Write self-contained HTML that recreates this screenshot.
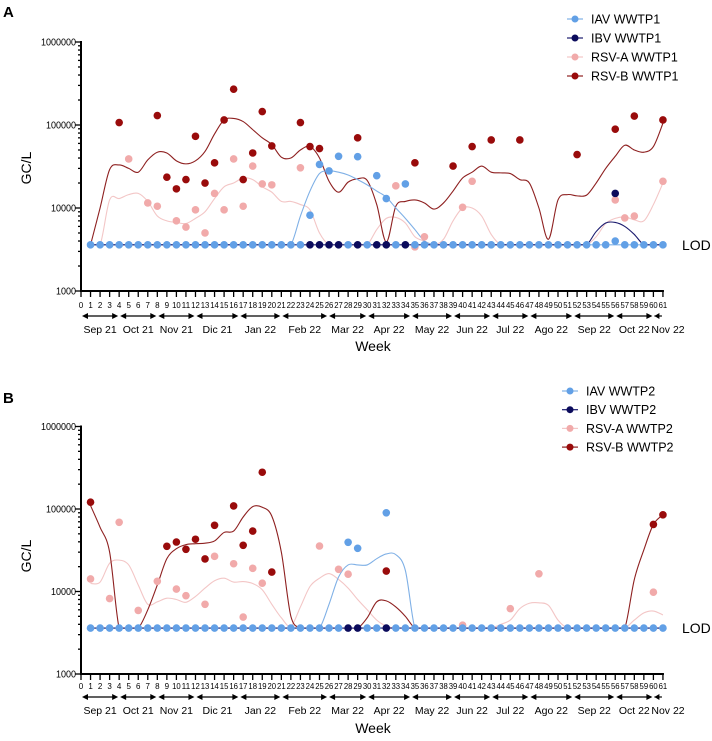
<!DOCTYPE html>
<html><head><meta charset="utf-8"><style>
body{margin:0;background:#fff;}
svg{display:block;font-family:"Liberation Sans",sans-serif;}
</style></head><body>
<svg id="chart" width="712" height="741" viewBox="0 0 712 741"></svg>
<script>
const L = 3600;
const weekTicks = Array.from({length:62},(_, i)=>String(i));
const months = ["Sep 21","Oct 21","Nov 21","Dic 21","Jan 22","Feb 22","Mar 22","Apr 22","May 22","Jun 22","Jul 22","Ago 22","Sep 22","Oct 22","Nov 22"];
const monthBounds = [0,4,8,12,16.6,21,25.9,30,34.6,39,43,47,51.6,56,60,61];
const yTicks = [1000,10000,100000,1000000];
const yTickLabels = ["1000","10000","100000","1000000"];

const A_rsvbWeeks = [4,8,9,10,11,12,13,14,15,16,17,18,19,20,23,24,25,29,35,39,41,43,46,52,56,58,61];
const A_rsvbVals  = [107000,130000,23500,17000,22000,73000,20000,35000,115000,270000,22000,46000,145000,56000,107000,55000,52000,70000,35000,32000,55000,66000,66000,44000,89000,128000,115000];
const A_rsvaWeeks = [5,7,8,10,11,12,13,14,15,16,17,18,19,20,23,33,35,36,40,41,56,57,58,61];
const A_rsvaVals  = [39000,11500,10500,7000,5900,9500,5000,15000,9500,39000,10500,32000,19500,19000,30500,18500,3400,4500,10200,21000,12500,7600,8000,21000];
const A_iavWeeks  = [24,25,26,27,29,31,32,34,56];
const A_iavVals   = [8200,33500,28000,42000,41500,24500,13000,19500,4000];
const A_ibvWeeks  = [24,25,26,27,29,31,32,34,56];
const A_ibvVals   = [L,L,L,L,L,L,L,L,15000];
const A_rsvbLine = [L,10000,29000,33000,30000,27000,38000,47000,46000,37000,34000,37000,48000,78000,115000,120000,110000,88000,70000,58000,41000,40000,50000,55000,40000,21000,15500,20500,22500,21500,11000,3900,10500,12000,12500,11500,9700,11500,16000,23000,27000,32000,27000,26500,26000,22000,20000,10000,4200,12500,14500,14000,14300,20000,30000,42000,57000,50000,47000,55000,105000];
const A_rsvaLine = [L,L,12500,13000,14500,15000,12000,8000,7000,6700,6500,7500,9000,13000,18000,20000,23000,22000,18000,15500,12000,12000,11000,9500,5000,L,L,L,L,L,5500,7500,7700,6600,4500,4000,L,4200,7000,10000,10000,8000,4800,L,L,L,L,L,L,L,L,L,L,4500,6500,7500,7800,7200,7000,11000,20000];
const A_iavLine  = [L,L,L,L,L,L,L,L,L,L,L,L,L,L,L,L,L,L,L,L,L,L,8000,16000,26000,28000,27000,25000,22000,19000,16000,13500,10000,7500,5500,4000,L,L,L,L,L,L,L,L,L,L,L,L,L,L,L,L,L,L,L,L,L,L,L,L,L];
const A_ibvLine  = [L,L,L,L,L,L,L,L,L,L,L,L,L,L,L,L,L,L,L,L,L,L,L,L,L,L,L,L,L,L,L,L,L,L,L,L,L,L,L,L,L,L,L,L,L,L,L,L,L,L,L,L,L,5200,6600,6700,6000,4800,L,L,L];

const B_rsvbWeeks = [1,9,10,11,12,13,14,16,17,18,19,20,32,60,61];
const B_rsvbVals  = [121000,35300,39800,32500,43000,24800,63500,109000,36300,54000,279000,17200,17700,65000,85000];
const B_rsvaWeeks = [1,3,4,6,8,10,11,13,14,16,17,18,19,25,27,28,40,45,48,60];
const B_rsvaVals  = [14200,8200,69000,5900,13300,10700,8900,7000,26700,21700,4900,19100,12600,35600,18600,16200,3900,6200,16400,9800];
const B_iavWeeks  = [28,29,32];
const B_iavVals   = [39500,33400,90000];
const B_ibvWeeks  = [28,29,32];
const B_ibvVals   = [L,L,L];
const B_rsvbLine = [110000,60000,30000,L,L,L,6000,12000,25000,33000,37000,38000,38500,41000,52000,54000,80000,107000,105000,82000,30000,5000,L,L,L,L,L,L,L,4800,7500,7700,6500,5000,L,L,L,L,L,L,L,L,L,L,L,L,L,L,L,L,L,L,L,L,L,L,L,14000,32000,65000,85000];
const B_rsvaLine = [12500,13000,22000,24000,21000,12000,7000,7500,8300,8000,7400,8700,11000,13500,14500,13000,13200,12500,10500,7000,4800,3800,6500,11500,14500,16500,14000,11000,8000,6000,4500,3800,L,L,L,L,L,L,L,L,L,L,L,4000,4500,6200,7200,7300,6800,4500,L,L,L,L,L,L,L,4500,5500,5800,5200];
const B_iavLine  = [L,L,L,L,L,L,L,L,L,L,L,L,L,L,L,L,L,L,L,L,L,L,L,L,L,7000,15000,21000,21000,21000,25000,28500,28000,18000,L,L,L,L,L,L,L,L,L,L,L,L,L,L,L,L,L,L,L,L,L,L,L,L,L,L,L];
const B_ibvLine  = [L,L,L,L,L,L,L,L,L,L,L,L,L,L,L,L,L,L,L,L,L,L,L,L,L,L,L,L,L,L,L,L,L,L,L,L,L,L,L,L,L,L,L,L,L,L,L,L,L,L,L,L,L,L,L,L,L,L,L,L,L];

const C = {iav:"#62a0e6", ibv:"#0b0b5c", rsva:"#f1aaaa", rsvb:"#990b0b"};
const LC = {iav:"#7fb0e6", ibv:"#1a1a6e", rsva:"#f3c6c6", rsvb:"#8e2020"};
const svg = document.getElementById('chart');
const NS = "http://www.w3.org/2000/svg";
function mk(tag, attrs, parent){const e=document.createElementNS(NS,tag);for(const k in attrs)e.setAttribute(k,attrs[k]);(parent||svg).appendChild(e);return e;}
function smoothPath(pts, ymax){
  let d="M"+pts[0][0]+","+pts[0][1];
  for(let i=0;i<pts.length-1;i++){
    const p0=pts[i-1]||pts[i],p1=pts[i],p2=pts[i+1],p3=pts[i+2]||p2;
    let c1y=Math.min(ymax,p1[1]+(p2[1]-p0[1])/6), c2y=Math.min(ymax,p2[1]-(p3[1]-p1[1])/6);
    d+=" C"+(p1[0]+(p2[0]-p0[0])/6)+","+c1y+" "+(p2[0]-(p3[0]-p1[0])/6)+","+c2y+" "+p2[0]+","+p2[1];
  }
  return d;
}
function panel(P){
  const x0=81, dx=9.54;
  const X=w=>x0+w*dx;
  const Y=v=>P.y1000-(Math.log10(v)-3)*P.dec;
  const g=mk('g',{});
  
  
  const lt=mk('text',{x:3,y:P.letterY,'font-size':15,'font-weight':'bold'},g);lt.textContent=P.letter;
  
  const ya=mk('g',{},g);
  mk('line',{x1:x0,x2:x0,y1:Y(1000000)-1,y2:Y(1000)+1,stroke:'#000','stroke-width':2},ya);
  for(let e=3;e<6;e++)for(let m=1;m<10;m++){
    const v=m*Math.pow(10,e);const len=m===1?6:3;
    mk('line',{x1:x0-len,x2:x0,y1:Y(v),y2:Y(v),stroke:'#000','stroke-width':1.3},ya);
  }
  mk('line',{x1:x0-6,x2:x0,y1:Y(1000000),y2:Y(1000000),stroke:'#000','stroke-width':1.3},ya);
  yTicks.forEach((v,i)=>{const t=mk('text',{x:x0-5,y:Y(v)+3.5,'font-size':10,'text-anchor':'end',textLength:yTickLabels[i].length*5,lengthAdjust:'spacingAndGlyphs'},ya);t.textContent=yTickLabels[i];});
  const yt=mk('text',{x:0,y:0,'font-size':14,'text-anchor':'middle',transform:`translate(31,${P.ytitleY}) rotate(-90)`},g);yt.textContent="GC/L";
  
  const xa=mk('g',{},g);
  mk('line',{x1:x0-1,x2:X(61)+1,y1:Y(1000),y2:Y(1000),stroke:'#000','stroke-width':2},xa);
  weekTicks.forEach((lab,w)=>{
    mk('line',{x1:X(w),x2:X(w),y1:Y(1000),y2:Y(1000)+6,stroke:'#000','stroke-width':1.3},xa);
    const a={x:X(w),y:P.tickY,'font-size':8,'text-anchor':'middle'};
    if(lab.length>1){a.textLength=8.6;a.lengthAdjust='spacingAndGlyphs';}
    const t=mk('text',a,xa);t.textContent=lab;
  });
  months.forEach((m,i)=>{
    const a=X(monthBounds[i])+1,b=X(monthBounds[i+1])-1,y=P.arrowY;
    const mg=mk('g',{},xa);
    if(b-a>14){
      mk('line',{x1:a+3,x2:b-3,y1:y,y2:y,stroke:'#000','stroke-width':1.2},mg);
      mk('polygon',{points:`${a},${y} ${a+6},${y-3} ${a+6},${y+3}`,fill:'#000'},mg);
      mk('polygon',{points:`${b},${y} ${b-6},${y-3} ${b-6},${y+3}`,fill:'#000'},mg);
    } else {
      mk('line',{x1:a,x2:b,y1:y,y2:y,stroke:'#000','stroke-width':1.2},mg);
      mk('polygon',{points:`${a},${y} ${a+5},${y-3} ${a+5},${y+3}`,fill:'#000'},mg);
    }
    let cx=(a+b)/2;
    if(i===months.length-1) cx=668;
    const t=mk('text',{x:cx,y:P.monthY,'font-size':10.5,'text-anchor':'middle'},mg);t.textContent=m;
  });
  const xt=mk('text',{x:373,y:P.weekY,'font-size':14,'text-anchor':'middle'},g);xt.textContent="Week";
  
  const order=['rsva','rsvb','iav','ibv'];
  order.forEach(k=>{
    const arr=P.lines[k];const pts=arr.map((v,i)=>[X(i+1),Y(v)]);
    const p=mk('path',{d:smoothPath(pts,Y(L)),fill:'none',stroke:LC[k],'stroke-width':1.1},g);
    
  });
  const dotsAt=(k,ws,vs)=>ws.forEach((w,i)=>{
    const c=mk('circle',{cx:X(w),cy:Y(vs[i]),r:3.8,fill:C[k]},g);
    
  });
  dotsAt('rsva',P.dots.rsva[0],P.dots.rsva[1]);
  dotsAt('rsvb',P.dots.rsvb[0],P.dots.rsvb[1]);
  const iw=[],iv=[];
  for(let w=1;w<=61;w++){const j=P.dots.iav[0].indexOf(w);if(P.dots.ibv[0].indexOf(w)>=0&&j<0)continue;iw.push(w);iv.push(j>=0?P.dots.iav[1][j]:L);}
  dotsAt('iav',iw,iv);
  dotsAt('ibv',P.dots.ibv[0],P.dots.ibv[1]);
  const lod=mk('text',{x:682,y:Y(L)+5,'font-size':14},g);lod.textContent="LOD";
  
  const names=[["iav","IAV"],["ibv","IBV"],["rsva","RSV-A"],["rsvb","RSV-B"]];
  names.forEach((n,i)=>{
    const y=P.legY+i*P.legStep;
    const lg=mk('g',{},g);
    mk('line',{x1:P.legX-8,x2:P.legX+8,y1:y,y2:y,stroke:LC[n[0]],'stroke-width':1.2},lg);
    mk('circle',{cx:P.legX,cy:y,r:3.5,fill:C[n[0]]},lg);
    const t=mk('text',{x:P.legX+16,y:y+4.5,'font-size':12.5},lg);t.textContent=n[1]+" "+P.suffix;
  });
}
panel({name:'panel-a',letter:'A',letterY:17,y1000:291,dec:83,tickY:308,arrowY:316,monthY:333,weekY:351,ytitleY:168,
  legX:575,legY:19,legStep:19,suffix:'WWTP1',
  lines:{iav:A_iavLine,ibv:A_ibvLine,rsva:A_rsvaLine,rsvb:A_rsvbLine},
  dots:{iav:[A_iavWeeks,A_iavVals],ibv:[A_ibvWeeks,A_ibvVals],rsva:[A_rsvaWeeks,A_rsvaVals],rsvb:[A_rsvbWeeks,A_rsvbVals]}});
panel({name:'panel-b',letter:'B',letterY:403,y1000:674,dec:82.5,tickY:689,arrowY:697,monthY:714,weekY:733,ytitleY:556,
  legX:570,legY:391,legStep:18.7,suffix:'WWTP2',
  lines:{iav:B_iavLine,ibv:B_ibvLine,rsva:B_rsvaLine,rsvb:B_rsvbLine},
  dots:{iav:[B_iavWeeks,B_iavVals],ibv:[B_ibvWeeks,B_ibvVals],rsva:[B_rsvaWeeks,B_rsvaVals],rsvb:[B_rsvbWeeks,B_rsvbVals]}});
</script>
</body></html>
